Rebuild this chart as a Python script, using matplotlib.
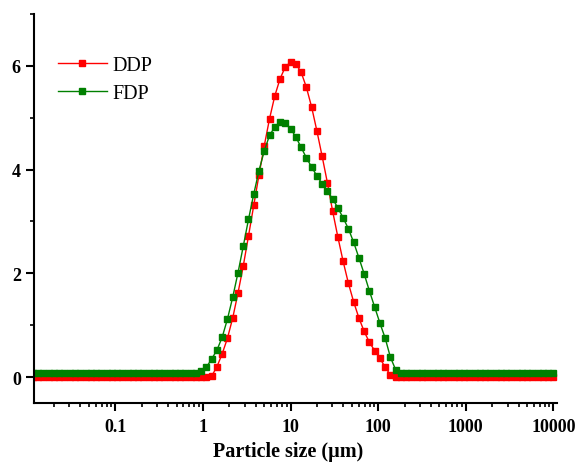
import numpy as np
import matplotlib
matplotlib.use('Agg')
import matplotlib.pyplot as plt
from matplotlib.ticker import LogLocator, FixedLocator, NullFormatter

plt.rcParams['font.family'] = ['Liberation Serif', 'DejaVu Serif']

# size classes (um), log spaced, 100 bins
sizes = np.logspace(-2, 4, 101)[1:]

# volume density (%)
ddp = ([0.0] * 34 +
       [0.02, 0.20, 0.45, 0.75, 1.14, 1.62, 2.14, 2.72, 3.31, 3.90,
        4.46, 4.98, 5.42, 5.75, 5.98, 6.07, 6.04, 5.88, 5.59, 5.21,
        4.75, 4.26, 3.75, 3.20, 2.70, 2.23, 1.81, 1.45, 1.14, 0.88,
        0.67, 0.51, 0.36, 0.19, 0.04] +
       [0.0] * 31)
fdp = ([0.07] * 32 +
       [0.11, 0.19, 0.35, 0.52, 0.77, 1.12, 1.54, 2.01, 2.52, 3.04,
        3.53, 3.98, 4.36, 4.66, 4.82, 4.92, 4.90, 4.79, 4.63, 4.43,
        4.23, 4.05, 3.88, 3.73, 3.58, 3.44, 3.26, 3.07, 2.86, 2.60,
        2.30, 1.99, 1.66, 1.35, 1.04, 0.75, 0.38, 0.14] +
       [0.07] * 30)

series_names = ['DDP', 'FDP']
series_colors = ['#ff0000', '#008000']

xticks = [0.1, 1, 10, 100, 1000, 10000]
xtick_labels = ['0.1', '1', '10', '100', '1000', '10000']
yticks = [0, 2, 4, 6]

fig = plt.figure(figsize=(5.76, 4.64), dpi=100)
ax = fig.add_axes([0.059, 0.1293, 0.9075, 0.8384])

for vals, name, col in zip([ddp, fdp], series_names, series_colors):
    ax.plot(sizes, vals, color=col, lw=1.0, marker='s', ms=3.8,
            mec=col, mfc=col, label=name)

ax.set_xscale('log')
ax.set_xlim(0.0118, 10900)
ax.set_ylim(-0.5, 7)

ax.xaxis.set_major_locator(FixedLocator(xticks))
ax.set_xticklabels(xtick_labels)
ax.xaxis.set_minor_locator(LogLocator(base=10, subs=np.arange(2, 10), numticks=20))
ax.xaxis.set_minor_formatter(NullFormatter())
ax.set_yticks(yticks)
ax.yaxis.set_minor_locator(FixedLocator([1, 3, 5, 7]))

for s in ['top', 'right']:
    ax.spines[s].set_visible(False)
for s in ['left', 'bottom']:
    ax.spines[s].set_linewidth(1.5)

ax.tick_params(which='major', direction='out', length=5.5, width=1.5,
               labelsize=13, pad=4)
ax.tick_params(axis='x', which='major', pad=5)
ax.tick_params(which='minor', direction='out', length=3, width=1.2)
for lab in ax.get_xticklabels() + ax.get_yticklabels():
    lab.set_fontweight('bold')

ax.set_xlabel('Particle size (\u00b5m)', fontsize=14.5, fontweight='bold')
ax.xaxis.set_label_coords(0.486, -0.097)

leg = ax.legend(loc='upper left', bbox_to_anchor=(0.031, 0.914), frameon=False,
                fontsize=14.5, numpoints=1, handlelength=2.4, handletextpad=0.3,
                labelspacing=0.45, borderaxespad=0)

fig.savefig('out.png', dpi=100)
